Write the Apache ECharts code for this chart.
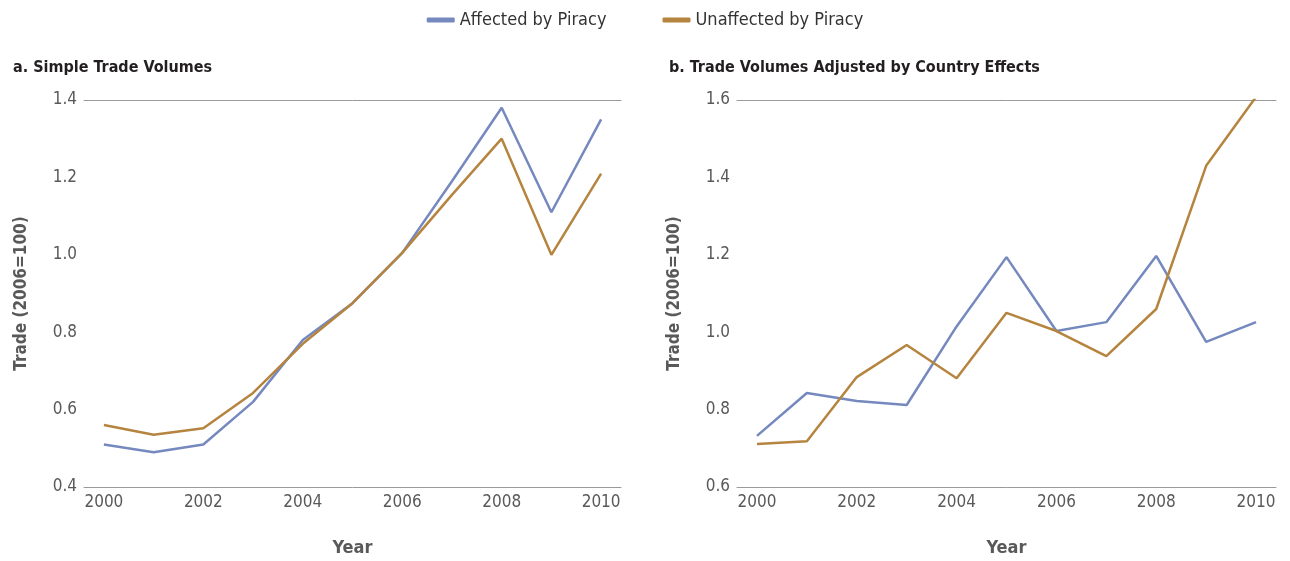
<!DOCTYPE html>
<html>
<head>
<meta charset="utf-8">
<script src="https://cdn.jsdelivr.net/npm/echarts@6/dist/echarts.min.js"></script>
<style>
  html, body { margin: 0; padding: 0; background: #fff; }
  #chart { width: 1290px; height: 561px; }
</style>
</head>
<body>
<div id="chart"></div>
<script>
const years = [2000, 2001, 2002, 2003, 2004, 2005, 2006, 2007, 2008, 2009, 2010];
const yearTicks = [2000, 2002, 2004, 2006, 2008, 2010];

// panel a
const simpleAffected = [0.51, 0.49, 0.51, 0.62, 0.78, 0.875, 1.005, 1.19, 1.38, 1.11, 1.35];
const simpleUnaffected = [0.56, 0.535, 0.552, 0.643, 0.77, 0.875, 1.005, 1.155, 1.30, 1.0, 1.21];

// panel b
const adjAffected = [0.732, 0.843, 0.822, 0.812, 1.015, 1.194, 1.003, 1.026, 1.197, 0.975, 1.026];
const adjUnaffected = [0.711, 0.718, 0.884, 0.967, 0.881, 1.05, 1.003, 0.938, 1.06, 1.43, 1.608];

const font = '"Liberation Sans Narrow", "DejaVu Sans Condensed", "Roboto Condensed", sans-serif';
const blue = '#7589bf';
const brown = '#b5843f';
const grey = '#595959';
const lineGrey = '#9a9a9a';

const pairs = arr => years.map((y, i) => [y, arr[i]]);

let chartDom = document.getElementById('chart');
let myChart = echarts.init(chartDom);

function xAxisFor(gridIndex) {
    return [
        {
            type: 'value',
            gridIndex: gridIndex,
            min: 1999.6,
            max: 2010.4,
            name: 'Year',
            nameLocation: 'middle',
            nameGap: 52,
            nameTextStyle: { fontFamily: font, fontWeight: 'bold', fontSize: 18, color: grey },
            axisLine: { show: true, lineStyle: { color: lineGrey, width: 1 } },
            axisTick: { show: false },
            splitLine: { show: false },
            axisLabel: {
                customValues: yearTicks,
                fontFamily: font, fontSize: 17, color: grey, margin: 7,
                formatter: v => String(v)
            }
        },
        {
            // top border line
            type: 'value',
            gridIndex: gridIndex,
            position: 'top',
            min: 1999.6,
            max: 2010.4,
            axisLine: { show: true, lineStyle: { color: lineGrey, width: 1 } },
            axisTick: { show: false },
            axisLabel: { show: false },
            splitLine: { show: false }
        }
    ];
}

function yAxisFor(gridIndex, min, max) {
    return {
        type: 'value',
        gridIndex: gridIndex,
        min: min,
        max: max,
        interval: 0.2,
        name: 'Trade (2006=100)',
        nameLocation: 'middle',
        nameGap: 54,
        nameTextStyle: { fontFamily: font, fontWeight: 'bold', fontSize: 17, color: grey },
        axisLine: { show: false },
        axisTick: { show: false },
        splitLine: { show: false },
        axisLabel: {
            fontFamily: font, fontSize: 17, color: grey, margin: 7,
            formatter: v => v.toFixed(1)
        }
    };
}

function lineSeries(name, color, data, xIdx, yIdx) {
    return {
        name: name,
        type: 'line',
        xAxisIndex: xIdx,
        yAxisIndex: yIdx,
        data: pairs(data),
        symbol: 'none',
        lineStyle: { color: color, width: 2.5 },
        itemStyle: { color: color }
    };
}

let option = {
    animation: false,
    textStyle: { fontFamily: font },
    title: [
        {
            text: 'a. Simple Trade Volumes',
            left: 8, top: 55,
            textStyle: { fontFamily: font, fontWeight: 'bold', fontSize: 16, color: '#231f20' }
        },
        {
            text: 'b. Trade Volumes Adjusted by Country Effects',
            left: 664, top: 55,
            textStyle: { fontFamily: font, fontWeight: 'bold', fontSize: 16, color: '#231f20' }
        }
    ],
    legend: {
        top: 6,
        left: 'center',
        itemGap: 56,
        itemWidth: 28,
        itemHeight: 5,
        icon: 'roundRect',
        textStyle: { fontFamily: font, fontSize: 18, color: '#333' },
        data: ['Affected by Piracy', 'Unaffected by Piracy']
    },
    grid: [
        { left: 84, right: 669, top: 100, bottom: 74, outerBoundsMode: 'none' },
        { left: 737, right: 14, top: 100, bottom: 74, outerBoundsMode: 'none' }
    ],
    xAxis: [...xAxisFor(0), ...xAxisFor(1)],
    yAxis: [yAxisFor(0, 0.4, 1.4), yAxisFor(1, 0.6, 1.6)],
    series: [
        lineSeries('Affected by Piracy', blue, simpleAffected, 0, 0),
        lineSeries('Unaffected by Piracy', brown, simpleUnaffected, 0, 0),
        lineSeries('Affected by Piracy', blue, adjAffected, 2, 1),
        lineSeries('Unaffected by Piracy', brown, adjUnaffected, 2, 1)
    ]
};

option && myChart.setOption(option);
</script>
</body>
</html>
